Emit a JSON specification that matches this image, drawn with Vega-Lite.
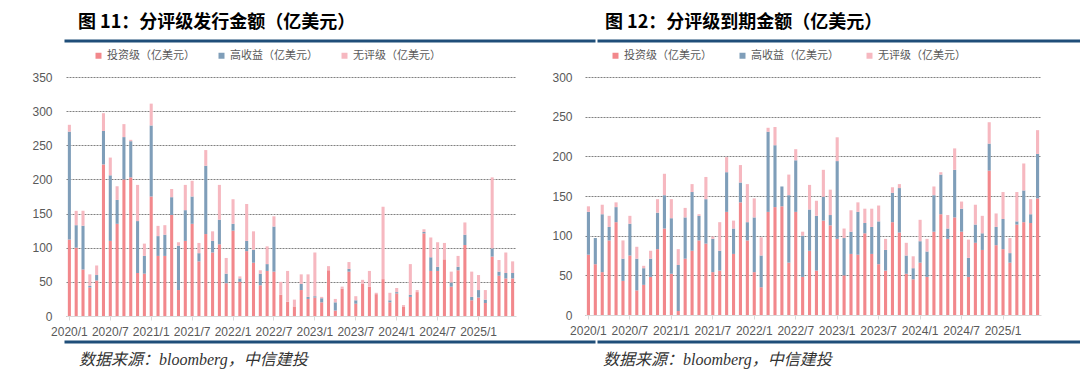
{
  "$schema": "https://vega.github.io/schema/vega-lite/v6.json",
  "background": "white",
  "padding": {"left": 12, "top": 12, "right": 0, "bottom": 0},
  "datasets": {
    "issue": [
      {"m":"2020/1","inv":112,"junk":158,"unrated":10},{"m":"2020/2","inv":100,"junk":33,"unrated":21},{"m":"2020/3","inv":68,"junk":64,"unrated":22},{"m":"2020/4","inv":42,"junk":2,"unrated":17},{"m":"2020/5","inv":52,"junk":8,"unrated":14},{"m":"2020/6","inv":222,"junk":49,"unrated":26},
      {"m":"2020/7","inv":110,"junk":96,"unrated":26},{"m":"2020/8","inv":135,"junk":35,"unrated":20},{"m":"2020/9","inv":200,"junk":62,"unrated":19},{"m":"2020/10","inv":203,"junk":53,"unrated":2},{"m":"2020/11","inv":63,"junk":76,"unrated":53},{"m":"2020/12","inv":62,"junk":26,"unrated":18},
      {"m":"2021/1","inv":175,"junk":104,"unrated":32},{"m":"2021/2","inv":88,"junk":29,"unrated":15},{"m":"2021/3","inv":88,"junk":31,"unrated":14},{"m":"2021/4","inv":148,"junk":26,"unrated":12},{"m":"2021/5","inv":38,"junk":65,"unrated":5},{"m":"2021/6","inv":110,"junk":45,"unrated":37},
      {"m":"2021/7","inv":135,"junk":40,"unrated":23},{"m":"2021/8","inv":80,"junk":12,"unrated":15},{"m":"2021/9","inv":120,"junk":100,"unrated":23},{"m":"2021/10","inv":93,"junk":17,"unrated":14},{"m":"2021/11","inv":105,"junk":36,"unrated":51},{"m":"2021/12","inv":48,"junk":14,"unrated":23},
      {"m":"2022/1","inv":125,"junk":10,"unrated":36},{"m":"2022/2","inv":50,"junk":5,"unrated":3},{"m":"2022/3","inv":95,"junk":15,"unrated":54},{"m":"2022/4","inv":78,"junk":19,"unrated":27},{"m":"2022/5","inv":45,"junk":17,"unrated":5},{"m":"2022/6","inv":66,"junk":10,"unrated":26},
      {"m":"2022/7","inv":65,"junk":66,"unrated":15},{"m":"2022/8","inv":31,"junk":0,"unrated":19},{"m":"2022/9","inv":21,"junk":0,"unrated":45},{"m":"2022/10","inv":14,"junk":0,"unrated":10},{"m":"2022/11","inv":38,"junk":9,"unrated":14},{"m":"2022/12","inv":25,"junk":3,"unrated":33},
      {"m":"2023/1","inv":27,"junk":2,"unrated":64},{"m":"2023/2","inv":20,"junk":6,"unrated":2},{"m":"2023/3","inv":67,"junk":0,"unrated":6},{"m":"2023/4","inv":8,"junk":12,"unrated":5},{"m":"2023/5","inv":40,"junk":0,"unrated":3},{"m":"2023/6","inv":65,"junk":4,"unrated":10},
      {"m":"2023/7","inv":18,"junk":5,"unrated":6},{"m":"2023/8","inv":47,"junk":0,"unrated":6},{"m":"2023/9","inv":43,"junk":0,"unrated":23},{"m":"2023/10","inv":32,"junk":0,"unrated":2},{"m":"2023/11","inv":54,"junk":0,"unrated":106},{"m":"2023/12","inv":20,"junk":3,"unrated":11},
      {"m":"2024/1","inv":33,"junk":2,"unrated":6},{"m":"2024/2","inv":14,"junk":0,"unrated":2},{"m":"2024/3","inv":28,"junk":3,"unrated":45},{"m":"2024/4","inv":35,"junk":0,"unrated":3},{"m":"2024/5","inv":121,"junk":2,"unrated":4},{"m":"2024/6","inv":66,"junk":20,"unrated":29},
      {"m":"2024/7","inv":66,"junk":6,"unrated":36},{"m":"2024/8","inv":83,"junk":0,"unrated":24},{"m":"2024/9","inv":43,"junk":6,"unrated":16},{"m":"2024/10","inv":67,"junk":5,"unrated":16},{"m":"2024/11","inv":104,"junk":15,"unrated":18},{"m":"2024/12","inv":23,"junk":5,"unrated":37},
      {"m":"2025/1","inv":27,"junk":11,"unrated":22},{"m":"2025/2","inv":19,"junk":5,"unrated":14},{"m":"2025/3","inv":87,"junk":12,"unrated":104},{"m":"2025/4","inv":59,"junk":6,"unrated":17},{"m":"2025/5","inv":55,"junk":8,"unrated":30},{"m":"2025/6","inv":55,"junk":8,"unrated":17}
    ],
    "mature": [
      {"m":"2020/1","inv":76,"junk":54,"unrated":7},{"m":"2020/2","inv":64,"junk":33,"unrated":0},{"m":"2020/3","inv":54,"junk":73,"unrated":12},{"m":"2020/4","inv":94,"junk":17,"unrated":14},{"m":"2020/5","inv":117,"junk":19,"unrated":6},{"m":"2020/6","inv":43,"junk":28,"unrated":23},
      {"m":"2020/7","inv":75,"junk":40,"unrated":10},{"m":"2020/8","inv":31,"junk":40,"unrated":15},{"m":"2020/9","inv":38,"junk":21,"unrated":3},{"m":"2020/10","inv":48,"junk":23,"unrated":10},{"m":"2020/11","inv":83,"junk":46,"unrated":17},{"m":"2020/12","inv":109,"junk":42,"unrated":27},
      {"m":"2021/1","inv":52,"junk":70,"unrated":24},{"m":"2021/2","inv":5,"junk":58,"unrated":20},{"m":"2021/3","inv":71,"junk":52,"unrated":12},{"m":"2021/4","inv":81,"junk":74,"unrated":10},{"m":"2021/5","inv":94,"junk":31,"unrated":2},{"m":"2021/6","inv":90,"junk":56,"unrated":28},
      {"m":"2021/7","inv":54,"junk":42,"unrated":3},{"m":"2021/8","inv":56,"junk":25,"unrated":36},{"m":"2021/9","inv":130,"junk":50,"unrated":19},{"m":"2021/10","inv":77,"junk":32,"unrated":10},{"m":"2021/11","inv":142,"junk":25,"unrated":22},{"m":"2021/12","inv":94,"junk":23,"unrated":48},
      {"m":"2022/1","inv":54,"junk":69,"unrated":24},{"m":"2022/2","inv":35,"junk":40,"unrated":23},{"m":"2022/3","inv":130,"junk":101,"unrated":5},{"m":"2022/4","inv":136,"junk":78,"unrated":23},{"m":"2022/5","inv":137,"junk":25,"unrated":0},{"m":"2022/6","inv":66,"junk":85,"unrated":26},
      {"m":"2022/7","inv":130,"junk":65,"unrated":14},{"m":"2022/8","inv":48,"junk":52,"unrated":5},{"m":"2022/9","inv":81,"junk":52,"unrated":31},{"m":"2022/10","inv":56,"junk":69,"unrated":19},{"m":"2022/11","inv":119,"junk":30,"unrated":34},{"m":"2022/12","inv":113,"junk":13,"unrated":32},
      {"m":"2023/1","inv":96,"junk":98,"unrated":30},{"m":"2023/2","inv":50,"junk":47,"unrated":12},{"m":"2023/3","inv":77,"junk":28,"unrated":27},{"m":"2023/4","inv":76,"junk":54,"unrated":12},{"m":"2023/5","inv":103,"junk":13,"unrated":18},{"m":"2023/6","inv":77,"junk":34,"unrated":23},
      {"m":"2023/7","inv":64,"junk":54,"unrated":20},{"m":"2023/8","inv":56,"junk":26,"unrated":14},{"m":"2023/9","inv":117,"junk":37,"unrated":7},{"m":"2023/10","inv":104,"junk":56,"unrated":5},{"m":"2023/11","inv":52,"junk":23,"unrated":16},{"m":"2023/12","inv":45,"junk":14,"unrated":15},
      {"m":"2024/1","inv":66,"junk":27,"unrated":27},{"m":"2024/2","inv":48,"junk":32,"unrated":16},{"m":"2024/3","inv":105,"junk":46,"unrated":11},{"m":"2024/4","inv":127,"junk":50,"unrated":3},{"m":"2024/5","inv":96,"junk":13,"unrated":17},{"m":"2024/6","inv":123,"junk":60,"unrated":27},
      {"m":"2024/7","inv":105,"junk":29,"unrated":9},{"m":"2024/8","inv":48,"junk":24,"unrated":23},{"m":"2024/9","inv":91,"junk":23,"unrated":25},{"m":"2024/10","inv":82,"junk":21,"unrated":22},{"m":"2024/11","inv":182,"junk":34,"unrated":27},{"m":"2024/12","inv":88,"junk":23,"unrated":17},
      {"m":"2025/1","inv":83,"junk":38,"unrated":34},{"m":"2025/2","inv":66,"junk":12,"unrated":19},{"m":"2025/3","inv":114,"junk":4,"unrated":37},{"m":"2025/4","inv":117,"junk":40,"unrated":34},{"m":"2025/5","inv":116,"junk":11,"unrated":19},{"m":"2025/6","inv":147,"junk":56,"unrated":30}
    ]
  },
  "spacing": 3,
  "vconcat": [
    {
      "spacing": 1,
      "hconcat": [
        {
          "width": 528, "height": 0.01,
          "view": {"stroke": "#1F4E79", "strokeWidth": 3},
          "title": {"text": "图 11：分评级发行金额（亿美元）", "anchor": "start", "dx": 12, "offset": 9, "fontSize": 18, "fontWeight": "bold", "font": "Noto Sans CJK SC", "color": "#000000"},
          "data": {"values": []},
          "mark": "rule",
          "encoding": {}
        },
        {
          "width": 504, "height": 0.01,
          "view": {"stroke": "#1F4E79", "strokeWidth": 3},
          "title": {"text": "图 12：分评级到期金额（亿美元）", "anchor": "start", "dx": 6, "offset": 9, "fontSize": 18, "fontWeight": "bold", "font": "Noto Sans CJK SC", "color": "#000000"},
          "data": {"values": []},
          "mark": "rule",
          "encoding": {}
        }
      ]
    },
    {
      "spacing": 25,
      "resolve": {"scale": {"color": "independent"}},
      "hconcat": [
        {
          "width": 450, "height": 239,
          "data": {"name": "issue"},
          "transform": [{"fold": ["inv", "junk", "unrated"], "as": ["k", "v"]}],
          "mark": {"type": "bar"},
          "encoding": {
            "x": {"field": "m", "type": "ordinal", "sort": null,
                  "scale": {"paddingInner": 0.55, "paddingOuter": 0.27},
                  "axis": {"title": null, "values": ["2020/1","2020/7","2021/1","2021/7","2022/1","2022/7","2023/1","2023/7","2024/1","2024/7","2025/1"], "labelAngle": 0, "labelOverlap": false}},
            "y": {"field": "v", "type": "quantitative", "stack": "zero",
                  "scale": {"domain": [0, 350]},
                  "axis": {"values": [0,50,100,150,200,250,300,350], "title": " ", "titlePadding": 6, "labelPadding": 14}},
            "order": {"field": "k", "sort": "ascending"},
            "color": {"field": "k", "type": "nominal",
                      "scale": {"domain": ["inv","junk","unrated"], "range": ["#F2888C", "#7F9EB9", "#F6B8C0"]},
                      "legend": {"orient": "none", "legendX": 23, "legendY": -31, "padding": 4, "columnPadding": 21, "direction": "horizontal", "title": null,
                                 "labelExpr": "datum.label == 'inv' ? '投资级（亿美元）' : datum.label == 'junk' ? '高收益（亿美元）' : '无评级（亿美元）'"}}
          }
        },
        {
          "width": 456, "height": 238,
          "data": {"name": "mature"},
          "transform": [{"fold": ["inv", "junk", "unrated"], "as": ["k", "v"]}],
          "mark": {"type": "bar"},
          "encoding": {
            "x": {"field": "m", "type": "ordinal", "sort": null,
                  "scale": {"paddingInner": 0.55, "paddingOuter": 0.27},
                  "axis": {"title": null, "values": ["2020/1","2020/7","2021/1","2021/7","2022/1","2022/7","2023/1","2023/7","2024/1","2024/7","2025/1"], "labelAngle": 0, "labelOverlap": false}},
            "y": {"field": "v", "type": "quantitative", "stack": "zero",
                  "scale": {"domain": [0, 300]},
                  "axis": {"values": [0,50,100,150,200,250,300], "title": " ", "titlePadding": 0, "titleFontSize": 10, "labelPadding": 13}},
            "order": {"field": "k", "sort": "ascending"},
            "color": {"field": "k", "type": "nominal",
                      "scale": {"domain": ["inv","junk","unrated"], "range": ["#F2888C", "#7F9EB9", "#F6B8C0"]},
                      "legend": {"orient": "none", "legendX": 21, "legendY": -31, "padding": 4, "columnPadding": 25, "direction": "horizontal", "title": null,
                                 "labelExpr": "datum.label == 'inv' ? '投资级（亿美元）' : datum.label == 'junk' ? '高收益（亿美元）' : '无评级（亿美元）'"}}
          }
        }
      ]
    },
    {
      "spacing": 1,
      "hconcat": [
        {
          "width": 528, "height": 0.01,
          "view": {"stroke": "#1F4E79", "strokeWidth": 3},
          "title": {"text": "数据来源：bloomberg，中信建投", "orient": "bottom", "anchor": "start", "dx": 13, "offset": 10, "fontSize": 16, "fontStyle": "italic", "fontWeight": "normal", "font": "Liberation Serif, Noto Sans CJK SC", "color": "#333333"},
          "data": {"values": []},
          "mark": "rule",
          "encoding": {}
        },
        {
          "width": 504, "height": 0.01,
          "view": {"stroke": "#1F4E79", "strokeWidth": 3},
          "title": {"text": "数据来源：bloomberg，中信建投", "orient": "bottom", "anchor": "start", "dx": 4, "offset": 10, "fontSize": 16, "fontStyle": "italic", "fontWeight": "normal", "font": "Liberation Serif, Noto Sans CJK SC", "color": "#333333"},
          "data": {"values": []},
          "mark": "rule",
          "encoding": {}
        }
      ]
    }
  ],
  "config": {
    "font": "Liberation Sans",
    "view": {"stroke": null},
    "axisY": {"domain": false, "ticks": false, "grid": true, "gridColor": "#808080", "gridDash": [2, 1], "gridWidth": 1, "labelColor": "#595959", "labelFontSize": 12, "labelFont": "Liberation Sans", "titleFontSize": 12, "minExtent": 0},
    "axisX": {"domainColor": "#D9D9D9", "tickColor": "#D9D9D9", "tickSize": 4, "labelColor": "#595959", "labelFontSize": 12, "labelFont": "Liberation Sans", "labelPadding": 6, "grid": false},
    "legend": {"symbolType": "square", "symbolSize": 36, "symbolStrokeWidth": 0, "labelFontSize": 11, "labelColor": "#595959", "labelFont": "Noto Sans CJK SC", "labelOffset": 3, "labelLimit": 200}
  }
}
